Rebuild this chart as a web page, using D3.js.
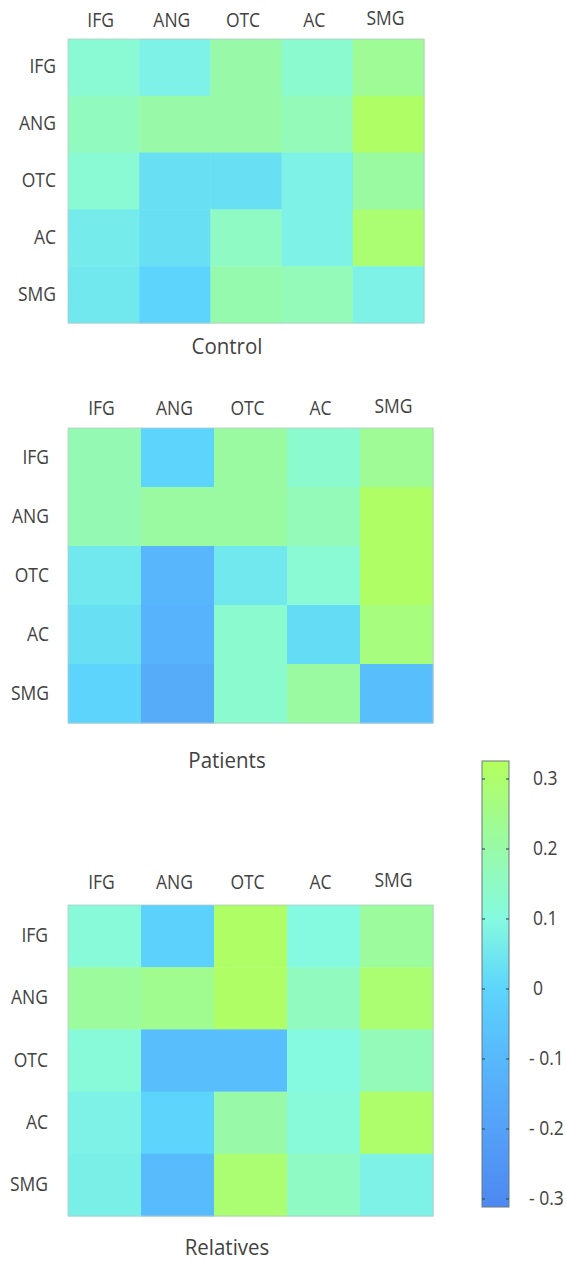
<!DOCTYPE html>
<html><head><meta charset="utf-8">
<script src="https://cdn.jsdelivr.net/npm/d3@7"></script>
<style>body{margin:0;background:#fff}svg{display:block}text{font-family:"Open Sans",sans-serif;fill:#424242}</style>
</head><body>
<script>
const regions = ["IFG","ANG","OTC","AC","SMG"];
const groups = ["Control","Patients","Relatives"];
const controlValues = [
  [0.12,0.08,0.20,0.13,0.23],
  [0.16,0.20,0.20,0.17,0.31],
  [0.12,0.03,0.03,0.08,0.21],
  [0.06,0.03,0.15,0.08,0.29],
  [0.05,0.00,0.19,0.17,0.08]
];
const patientValues = [
  [0.18,0.00,0.21,0.13,0.23],
  [0.18,0.21,0.21,0.17,0.31],
  [0.05,-0.11,0.05,0.12,0.31],
  [0.03,-0.12,0.13,0.02,0.27],
  [0.00,-0.15,0.13,0.21,-0.08]
];
const relativeValues = [
  [0.11,-0.01,0.31,0.10,0.22],
  [0.22,0.24,0.31,0.16,0.29],
  [0.11,-0.08,-0.08,0.10,0.17],
  [0.08,0.00,0.20,0.11,0.30],
  [0.07,-0.09,0.29,0.15,0.08]
];
const colorbarTicks = [0.3,0.2,0.1,0,-0.1,-0.2,-0.3];

const W=566,H=1262;
const svg=d3.select("body").append("svg").attr("width",W).attr("height",H);

const stops=[-0.32,-0.2,-0.1,0,0.1,0.2,0.33];
const color=d3.scaleLinear().domain(stops)
  .range(["#4c86f0","#55a0f8","#58b8fc","#5cd4fc","#86fae0","#98faa8","#b4ff5a"]).clamp(true);

const panels=[
  {data:controlValues,title:groups[0],x0:68,x1:424,y0:39,y1:323,colY:27,rowX:56,titleY:354},
  {data:patientValues,title:groups[1],x0:68,x1:433,y0:428,y1:723,colY:415,rowX:49,titleY:768},
  {data:relativeValues,title:groups[2],x0:68,x1:433,y0:905,y1:1216,colY:889,rowX:48,titleY:1255}
];
const sy=1.1;
function txt(g,x,y,s,size,anchor){
  g.append("text").attr("transform",`translate(${x},${y}) scale(1,${sy})`)
   .attr("font-size",size).attr("text-anchor",anchor).text(s);
}
panels.forEach(p=>{
  const x=d3.scaleBand().domain(regions).range([p.x0,p.x1]);
  const y=d3.scaleBand().domain(regions).range([p.y0,p.y1]);
  const g=svg.append("g");
  const cells=[];
  p.data.forEach((row,i)=>row.forEach((v,j)=>cells.push({r:regions[i],c:regions[j],v})));
  g.selectAll("rect").data(cells).join("rect")
    .attr("x",d=>x(d.c)).attr("y",d=>y(d.r))
    .attr("width",x.bandwidth()+0.5).attr("height",y.bandwidth()+0.5)
    .attr("fill",d=>color(d.v));
  g.append("rect").attr("x",p.x0).attr("y",p.y0).attr("width",p.x1-p.x0).attr("height",p.y1-p.y0)
    .attr("fill","none").attr("stroke","#b8c8c8").attr("stroke-width",0.8);
  regions.forEach((r,i)=>{
    txt(g,x(r)+x.bandwidth()/2-3,p.colY - (r==="SMG"?2:0),r,17.5,"middle");
    txt(g,p.rowX,y(r)+y.bandwidth()/2+6,r,17.5,"end");
  });
  txt(g,227,p.titleY,p.title,20.5,"middle");
});

// colorbar
const cbX=482,cbW=27,cbTop=761,cbBot=1207;
const cy=d3.scaleLinear().domain([-0.3,0.3]).range([1199,779]);
const defs=svg.append("defs");
const grad=defs.append("linearGradient").attr("id","cb").attr("x1",0).attr("x2",0).attr("y1",1).attr("y2",0);
const vLo=cy.invert(cbBot),vHi=cy.invert(cbTop);
d3.range(0,1.0001,0.05).forEach(t=>{
  const v=vLo+(vHi-vLo)*t;
  grad.append("stop").attr("offset",t).attr("stop-color",color(v));
});
const cb=svg.append("g");
cb.append("rect").attr("x",cbX).attr("y",cbTop).attr("width",cbW).attr("height",cbBot-cbTop)
  .attr("fill","url(#cb)").attr("stroke","#6a7a80").attr("stroke-width",1);
colorbarTicks.forEach(t=>{
  const yy=cy(t);
  cb.append("line").attr("x1",cbX).attr("x2",cbX+3).attr("y1",yy).attr("y2",yy).attr("stroke","#2a5a60").attr("stroke-width",1.2);
  cb.append("line").attr("x1",cbX+cbW-3).attr("x2",cbX+cbW).attr("y1",yy).attr("y2",yy).attr("stroke","#2a5a60").attr("stroke-width",1.2);
  const lab = t<0 ? "- "+Math.abs(t).toFixed(1) : (t===0?"0":t.toFixed(1));
  txt(cb,t<0?529:533,yy+6,lab,17.5,"start");
});
</script>
</body></html>
